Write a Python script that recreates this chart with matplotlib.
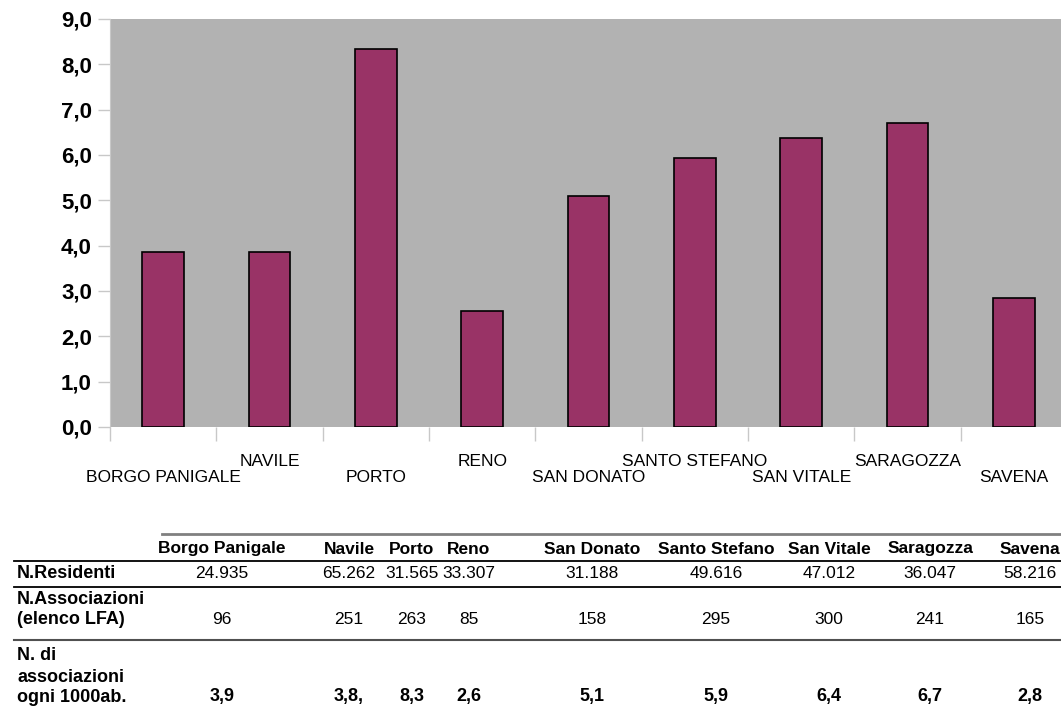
import matplotlib
matplotlib.use('Agg')
from matplotlib import pyplot as plt
from matplotlib.lines import Line2D
from matplotlib.transforms import blended_transform_factory

# chart data
quartieri = ['BORGO PANIGALE', 'NAVILE', 'PORTO', 'RENO', 'SAN DONATO',
             'SANTO STEFANO', 'SAN VITALE', 'SARAGOZZA', 'SAVENA']
assoc_per_1000 = [3.85, 3.85, 8.33, 2.56, 5.10, 5.93, 6.38, 6.71, 2.85]
y_ticks = [0, 1, 2, 3, 4, 5, 6, 7, 8, 9]

# table data
col_names = ['Borgo Panigale', 'Navile', 'Porto', 'Reno', 'San Donato',
             'Santo Stefano', 'San Vitale', 'Saragozza', 'Savena']
residenti = ['24.935', '65.262', '31.565', '33.307', '31.188',
             '49.616', '47.012', '36.047', '58.216']
associazioni = ['96', '251', '263', '85', '158', '295', '300', '241', '165']
ogni_1000 = ['3,9', '3,8,', '8,3', '2,6', '5,1', '5,9', '6,4', '6,7', '2,8']

W, H = 1061, 716
fig = plt.figure(figsize=(W / 100, H / 100), dpi=100)
plt.rcParams['font.family'] = ['Liberation Sans', 'DejaVu Sans']

def fx(x):
    return x / W

def fy(y):
    return 1 - y / H

# ---- bar chart
ax = fig.add_axes([fx(110), fy(427), fx(1067 - 110), (427 - 19) / H])
ax.set_facecolor('#b2b2b2')
xpos = [i + 0.5 for i in range(len(quartieri))]
ax.bar(xpos, assoc_per_1000, width=0.39, color='#993366',
       edgecolor='black', linewidth=1.2, zorder=3)
ax.set_xlim(0, len(quartieri))
ax.set_ylim(0, 9)
ax.set_yticks(y_ticks)
ax.set_yticklabels(['%d,0' % v for v in y_ticks], fontsize=16, fontweight='bold')
ax.tick_params(axis='y', length=9, width=1, color='#c8c8c8', pad=4)
ax.set_xticks(range(len(quartieri) + 1))
ax.set_xticklabels([])
ax.tick_params(axis='x', length=10, width=1, color='#c8c8c8')
for s in ['top', 'right', 'bottom']:
    ax.spines[s].set_visible(False)
ax.spines['left'].set_color('#c8c8c8')

trans = blended_transform_factory(ax.transData, fig.transFigure)
for i, name in enumerate(quartieri):
    ypix = 461 if i % 2 == 1 else 477
    ax.text(xpos[i], fy(ypix), name, transform=trans, ha='center', va='center',
            fontsize=12.5, clip_on=False)

# ---- table
col_x = [222, 349, 412, 469, 592, 716, 829, 930, 1030]

fig.add_artist(Line2D([fx(162), 1], [fy(534), fy(534)], color='#808080', lw=2))
for yl, c, lw in [(561, 'black', 1.3), (587, 'black', 1.3), (640, '#505050', 1.5)]:
    fig.add_artist(Line2D([fx(14), 1], [fy(yl), fy(yl)], color=c, lw=lw))

for x, name in zip(col_x, col_names):
    fig.text(fx(x), fy(549), name, ha='center', va='center', fontsize=12.5,
             fontweight='bold')
for x, v in zip(col_x, residenti):
    fig.text(fx(x), fy(574), v, ha='center', va='center', fontsize=12.5)
for x, v in zip(col_x, associazioni):
    fig.text(fx(x), fy(620), v, ha='center', va='center', fontsize=12.5)
for x, v in zip(col_x, ogni_1000):
    fig.text(fx(x), fy(697), v, ha='center', va='center', fontsize=13,
             fontweight='bold')

row_labels = [(574, 'N.Residenti'), (600, 'N.Associazioni'), (620, '(elenco LFA)'),
              (655, 'N. di'), (677, 'associazioni'), (697, 'ogni 1000ab.')]
for y, t in row_labels:
    fig.text(fx(17), fy(y), t, ha='left', va='center', fontsize=13,
             fontweight='bold')

plt.savefig('out.png', dpi=100)
